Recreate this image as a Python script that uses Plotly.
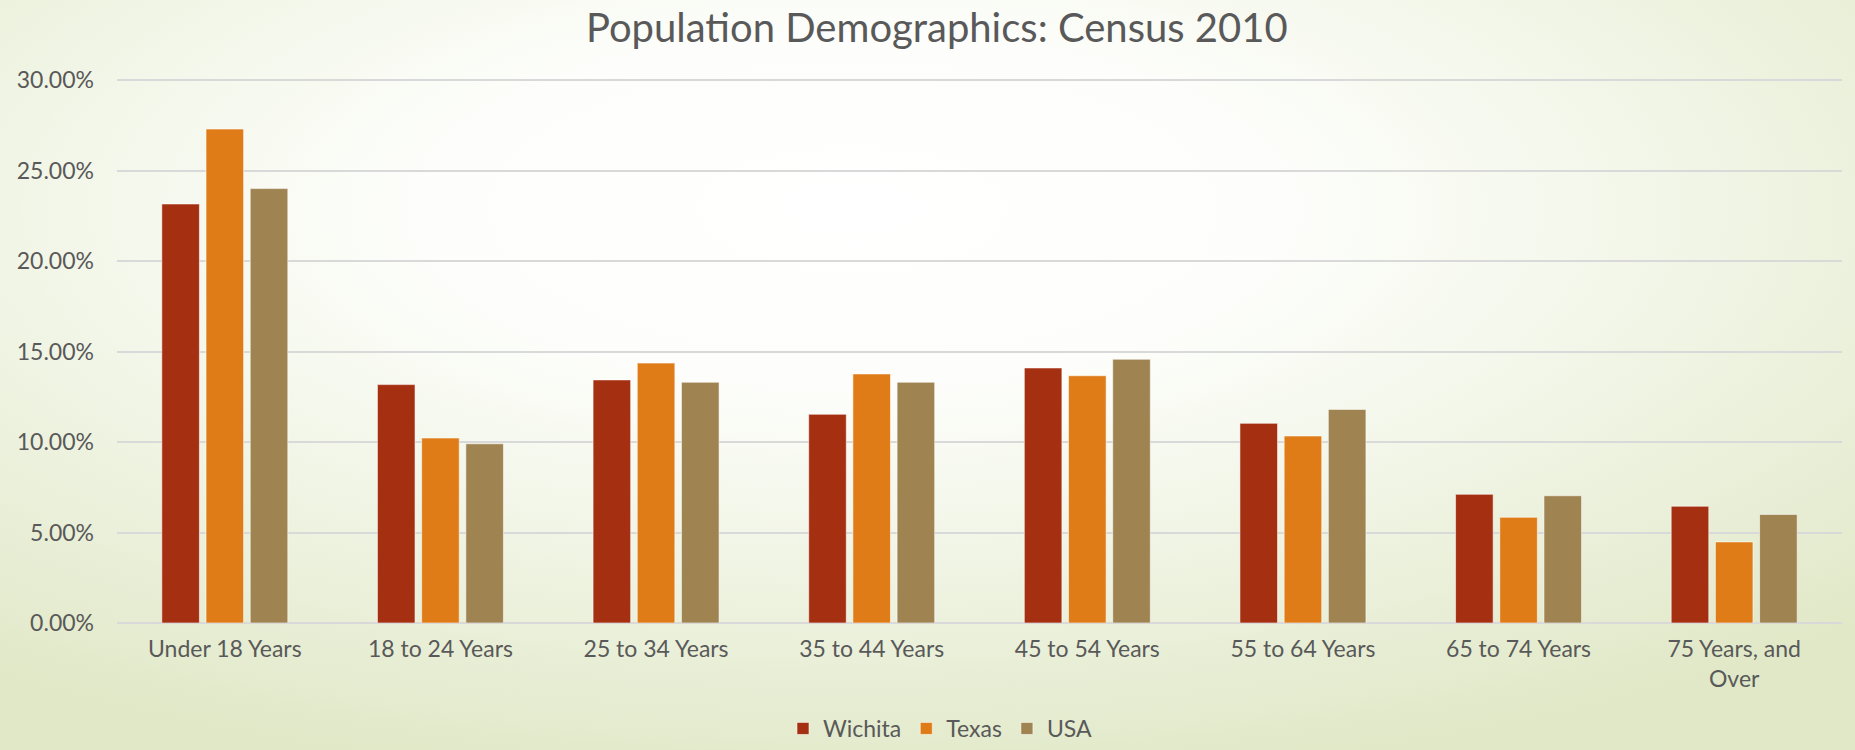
"""
Population demographics bar chart (Census 2010).
"""

import base64

import plotly.graph_objects as go


age_groups = [
    "Under 18 Years",
    "18 to 24 Years",
    "25 to 34 Years",
    "35 to 44 Years",
    "45 to 54 Years",
    "55 to 64 Years",
    "65 to 74 Years",
    "75 Years, and<br>Over",
]

wichita = [23.15, 13.17, 13.43, 11.53, 14.09, 11.03, 7.11, 6.45]
texas = [27.29, 10.22, 14.36, 13.76, 13.66, 10.33, 5.84, 4.48]
usa = [24.0, 9.9, 13.3, 13.3, 14.57, 11.8, 7.03, 6.0]

series = [
    ("Wichita", wichita, "#A52F11"),
    ("Texas", texas, "#DF7C18"),
    ("USA", usa, "#9F8351"),
]

y_ticks = [0, 5, 10, 15, 20, 25, 30]

FONT = "Lato"
TEXT_COLOR = "#595959"

# soft radial background, like the slide theme behind the chart
bg_svg = """<svg xmlns='http://www.w3.org/2000/svg' width='1855' height='750'
 viewBox='0 0 1855 750' preserveAspectRatio='none'>
<defs><radialGradient id='g' cx='0.46' cy='0.28' r='0.78'>
<stop offset='0' stop-color='#FFFFFF'/>
<stop offset='0.3' stop-color='#FDFEFB'/>
<stop offset='1' stop-color='#E0E8C7'/>
</radialGradient></defs>
<rect width='1855' height='750' fill='url(#g)'/>
</svg>"""
bg_uri = "data:image/svg+xml;base64," + base64.b64encode(bg_svg.encode()).decode()

# plot area: 0% sits at y=623px, 30% at y=80px (of 750)
px_per_pct = (623 - 80) / 30
y_top = 30.3
dom_top = (750 - (623 - y_top * px_per_pct)) / 750


fig = go.Figure()

for name, values, color in series:
    fig.add_trace(
        go.Bar(
            x=age_groups,
            y=values,
            name=name,
            marker=dict(
                color=color,
                line=dict(color="rgba(255,255,255,0.55)", width=1)
            )
        )
    )

fig.update_layout(
    width=1855,
    height=750,
    barmode="group",
    bargap=0.385,
    bargroupgap=0.15,
    margin=dict(l=0, r=0, t=0, b=0),
    paper_bgcolor="#F4F7EC",
    plot_bgcolor="rgba(0,0,0,0)",
    font=dict(family=FONT, color=TEXT_COLOR, size=23),
    title=dict(
        text="Population Demographics: Census 2010",
        x=0.505,
        xanchor="center",
        y=0.963,
        yanchor="middle",
        font=dict(family=FONT, size=40, color=TEXT_COLOR)
    ),
    xaxis=dict(
        domain=[117 / 1855, 1842 / 1855],
        showline=False,
        ticks="",
        tickfont=dict(size=23, color=TEXT_COLOR),
        ticklabelstandoff=10,
        automargin=False,
    ),
    yaxis=dict(
        domain=[(750 - 623) / 750, dom_top],
        range=[0, y_top],
        tickvals=y_ticks,
        ticktext=[f"{v:.2f}%" for v in y_ticks],
        gridcolor="#D9D9D9",
        gridwidth=2,
        zeroline=True,
        zerolinecolor="#D9D9D9",
        zerolinewidth=2,
        ticks="",
        tickfont=dict(size=23, color=TEXT_COLOR),
        ticklabelstandoff=22,
        automargin=False,
    ),
    legend=dict(
        orientation="h",
        x=0.507,
        xanchor="center",
        y=0,
        yanchor="bottom",
        font=dict(size=23, color=TEXT_COLOR),
        bgcolor="rgba(0,0,0,0)",
        itemwidth=30,
        traceorder="normal",
    ),
    images=[
        dict(
            source=bg_uri,
            xref="paper",
            yref="paper",
            x=0,
            y=1,
            sizex=1,
            sizey=1,
            xanchor="left",
            yanchor="top",
            sizing="stretch",
            layer="below",
        )
    ],
)

fig.write_html(
    "out.html",
    config={"displayModeBar": False},
    post_script="document.body.style.margin='0';document.body.style.overflow='hidden';"
)
